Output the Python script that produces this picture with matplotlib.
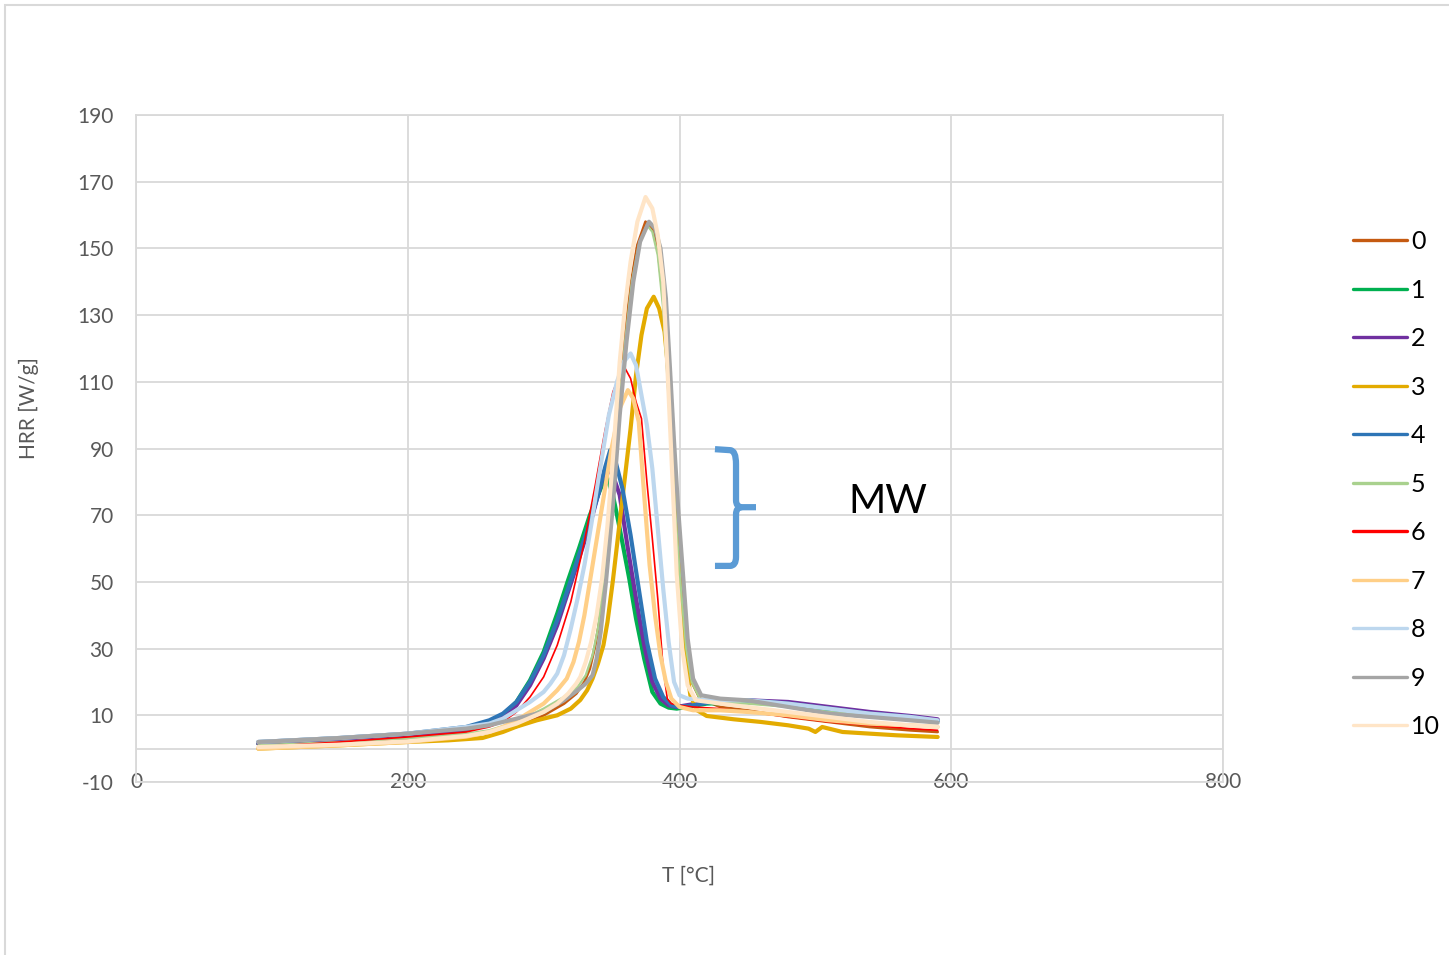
import matplotlib
matplotlib.use('Agg')
import matplotlib.pyplot as plt
from matplotlib.path import Path
from matplotlib.patches import PathPatch, Rectangle

plt.rcParams['font.family'] = ['Lato', 'DejaVu Sans']
plt.rcParams['axes.unicode_minus'] = False

# HRR curves, one pair of lists per sample
t0 = [90, 150, 200, 243, 260, 280, 300, 315, 324, 330, 334, 338, 341, 344, 349, 354, 359, 364, 369, 375,
      380, 384, 388, 391, 394, 397, 401, 405, 409, 415, 430, 450, 480, 510, 540, 570, 590]
hrr0 = [0.5, 1.5, 2.5, 3.8, 4.8, 6.5, 10, 13.5, 16.5, 20, 24, 31, 38, 50, 72, 99, 121, 139, 151, 158,
        156, 150, 135, 114, 92, 72, 50, 31, 20, 15, 12.5, 11.5, 9.5, 8, 6.5, 5.5, 5]

t1 = [90, 150, 200, 243, 260, 270, 280, 290, 300, 310, 318, 326, 334, 340, 344, 347, 351, 356, 363, 368,
      374, 380, 386, 392, 398, 405, 420, 450, 480, 510, 540, 570, 590]
hrr1 = [1.5, 2.5, 3.5, 5.5, 8, 10, 14, 20.5, 29, 40.5, 50.5, 60, 70, 76, 80, 81, 76, 66, 51, 39,
        27, 17, 13.5, 12.3, 12, 12.5, 13.5, 14, 13, 11.5, 10.5, 9.5, 8.5]

t2 = [90, 150, 200, 243, 260, 270, 280, 290, 300, 310, 318, 326, 334, 340, 344, 347, 351, 356, 362, 368,
      374, 380, 386, 392, 398, 405, 420, 450, 480, 510, 540, 570, 590]
hrr2 = [1.5, 2.5, 3.8, 5.8, 8, 9.5, 13, 19, 27, 37, 47, 57, 67, 76, 82, 84, 82, 76, 60, 45,
        31, 20, 15, 13, 12.5, 13, 14, 14.5, 14, 12.5, 11, 9.8, 8.8]

t3 = [90, 150, 200, 230, 255, 270, 280, 295, 310, 320, 327, 332, 336, 340, 344, 347, 351, 356, 360, 364,
      368, 372, 376, 381, 385, 389, 393, 396, 400, 404, 408, 413, 420, 440, 460, 480, 495, 500, 505, 520,
      540, 560, 590]
hrr3 = [0, 1, 2, 2.5, 3.2, 5, 6.6, 8.5, 10, 12, 14.6, 17.5, 21, 25.5, 31, 38, 50.5, 68, 82, 96,
        112, 124, 132, 135.5, 132, 125, 108, 85, 50, 28, 16, 11.5, 9.8, 8.8, 8, 7, 6, 5, 6.5, 5,
        4.5, 4, 3.5]

t4 = [90, 150, 200, 243, 260, 270, 280, 290, 300, 310, 318, 326, 334, 340, 345, 349, 353, 358, 364, 370,
      376, 382, 388, 394, 400, 410, 430, 450, 480, 510, 540, 570, 590]
hrr4 = [2, 3.2, 4.5, 6.5, 8.5, 10.5, 14, 20, 28, 38.5, 48, 58, 68, 76, 84, 89.5, 86, 78, 64, 48,
        32, 21, 15.5, 13, 12.5, 13, 14.5, 14.5, 13.5, 12, 10.5, 9.5, 8.3]

t5 = [90, 150, 200, 243, 260, 280, 300, 315, 325, 331, 336, 340, 345, 350, 355, 360, 365, 370, 376, 380,
      384, 388, 391, 394, 397, 401, 405, 409, 415, 430, 450, 480, 510, 540, 570, 590]
hrr5 = [1, 2, 3.2, 4.5, 5.5, 8, 12, 15.5, 18.5, 22, 28, 36, 52, 74, 100, 122, 140, 151, 157, 155,
        148, 132, 112, 90, 70, 48, 30, 20, 15, 14, 13.5, 12.5, 11, 10, 9, 8.5]

t6 = [90, 150, 200, 243, 260, 270, 280, 290, 300, 310, 320, 330, 338, 345, 351, 356, 360, 364, 368, 372,
      376, 380, 384, 388, 391, 394, 400, 410, 430, 450, 480, 510, 540, 570, 590]
hrr6 = [0.5, 2, 3.5, 5, 6.5, 8, 11, 15.5, 21.5, 31, 44, 62, 79, 95, 107, 112, 114, 111, 104, 99,
        80, 63, 45, 24, 15, 13.5, 13, 12.5, 12, 11, 9.5, 8, 7, 6, 5.5]

t7 = [90, 150, 200, 243, 260, 270, 280, 290, 300, 310, 317, 322, 326, 330, 334, 338, 342, 346, 350, 356,
      362, 366, 370, 374, 378, 382, 386, 390, 394, 400, 410, 430, 450, 480, 510, 540, 570, 590]
hrr7 = [0, 1, 2, 3.6, 5, 6.5, 8.5, 11, 13.5, 17.5, 21, 26, 32, 40, 50, 60, 70, 80, 90, 102,
        107.5, 105, 98, 76, 55, 40, 28, 20, 15, 12.5, 11.5, 11.5, 11, 10, 8.5, 7.5, 7, 6.5]

t8 = [90, 150, 200, 243, 260, 270, 280, 290, 300, 305, 310, 315, 320, 325, 330, 335, 340, 348, 354, 359,
      364, 368, 372, 376, 380, 384, 388, 392, 396, 400, 406, 420, 450, 480, 510, 540, 570, 590]
hrr8 = [2, 3.2, 4.5, 6.5, 7.5, 9, 11.5, 14, 17, 19.5, 22.5, 28, 36, 45, 55, 67, 80, 100, 110, 116,
        118.5, 115, 106, 97, 84, 66, 48, 32, 20, 16, 15, 14.5, 14.5, 13.5, 12, 10.5, 9.5, 8.5]

t9 = [90, 150, 200, 243, 260, 280, 300, 315, 325, 331, 336, 339, 342, 346, 351, 356, 361, 366, 371, 377.5,
      382, 386, 390, 393, 396, 399, 403, 406, 410, 416, 430, 450, 480, 510, 540, 570, 590]
hrr9 = [2, 3.2, 4.5, 6, 7, 9, 11, 14.5, 17.5, 19.5, 22, 27, 35, 50.5, 73, 100, 122, 140, 152, 158,
        156, 150, 135, 114, 92, 72, 50, 33, 21, 16, 15, 14.5, 12.5, 10.5, 9.5, 8.5, 7.8]

t10 = [90, 150, 200, 243, 260, 280, 300, 310, 318, 324, 327, 331, 335, 339, 343, 347, 351, 356, 360, 364,
       369, 375, 380, 384, 388, 391, 394, 398, 402, 406, 412, 430, 450, 480, 510, 540, 570, 590]
hrr10 = [0.5, 1.2, 2.2, 3.8, 5, 7.5, 11, 13.5, 16.5, 19.5, 21.5, 26, 32, 40, 51, 67, 87, 116, 133, 146,
         158, 165.4, 162, 154, 140, 115, 88, 52, 30, 19, 14.5, 13.5, 12.5, 11, 9.5, 8, 7, 6.5]

labels = ['0', '1', '2', '3', '4', '5', '6', '7', '8', '9', '10']
temps = [t0, t1, t2, t3, t4, t5, t6, t7, t8, t9, t10]
rates = [hrr0, hrr1, hrr2, hrr3, hrr4, hrr5, hrr6, hrr7, hrr8, hrr9, hrr10]

colors = ['#C55A11', '#00B050', '#7030A0', '#E3AB00', '#2E75B6', '#A9D18E',
          '#FF0000', '#FFCF87', '#BDD7EE', '#A5A5A5', '#FFE5C7']
widths = [2.0, 3.0, 3.0, 3.0, 3.0, 1.7, 1.2, 3.0, 3.0, 3.0, 3.0]

grid_color = '#D9D9D9'
text_color = '#595959'

fig = plt.figure(figsize=(14.49, 9.55), dpi=100)
ax = fig.add_axes([136 / 1449, 173 / 955, 1087 / 1449, 667 / 955])

for t, h, lab, c, w in zip(temps, rates, labels, colors, widths):
    ax.plot(t, h, color=c, linewidth=w, label=lab, solid_capstyle='round', solid_joinstyle='round')

ax.set_xlim(0, 800)
ax.set_ylim(-10, 190)
ax.set_xticks(range(0, 801, 200))
ax.set_yticks(range(-10, 191, 20))
ax.grid(True, color=grid_color, linewidth=1.3)
ax.axhline(0, color=grid_color, linewidth=1.3, zorder=0.5)
ax.set_axisbelow(True)
for sp in ax.spines.values():
    sp.set_color(grid_color)
    sp.set_linewidth(1.3)
ax.tick_params(axis='both', length=0, labelsize=15, labelcolor=text_color)
ax.tick_params(axis='y', pad=16)
ax.tick_params(axis='x', pad=-7.5)

ax.set_xlabel('T [°C]', fontsize=15, color=text_color)
ax.set_ylabel('HRR [W/g]', fontsize=15, color=text_color)
ax.xaxis.set_label_coords(0.508, -0.125)
ax.yaxis.set_label_coords(-0.089, 0.561)

# brace marking the MW effect
brace_color = '#5B9BD5'
upper = Path([(426.1, 89.8), (437.2, 89.5), (441.6, 89.5), (441.6, 85.3),
              (441.6, 74.5), (441.6, 72.4), (446.0, 72.4), (456.3, 72.4)],
             [Path.MOVETO, Path.LINETO, Path.CURVE3, Path.CURVE3,
              Path.LINETO, Path.CURVE3, Path.CURVE3, Path.LINETO])
lower = Path([(446.0, 72.4), (441.6, 72.4), (441.6, 70.3), (441.6, 57.5),
              (441.6, 54.8), (437.2, 54.8), (426.1, 54.8)],
             [Path.MOVETO, Path.CURVE3, Path.CURVE3, Path.LINETO,
              Path.CURVE3, Path.CURVE3, Path.LINETO])
for p in (upper, lower):
    ax.add_patch(PathPatch(p, fill=False, edgecolor=brace_color, linewidth=4.5,
                           capstyle='butt', joinstyle='round'))
ax.text(553.4, 74.2, 'MW', fontsize=29, color='black', ha='center', va='center')

leg = ax.legend(loc='upper left', bbox_to_anchor=(1353 / 1449, (955 - 230) / 955),
                bbox_transform=fig.transFigure, frameon=False, fontsize=18,
                borderpad=0, borderaxespad=0, handlelength=2.16, handletextpad=0.16,
                labelspacing=1.02)
for line in leg.get_lines():
    line.set_linewidth(2.4)

fig.patches.append(Rectangle((5 / 1449, -0.05), 1.2, 1.05 - 5 / 955, transform=fig.transFigure,
                             fill=False, edgecolor=grid_color, linewidth=1.5))

fig.savefig('out.png', dpi=100)
